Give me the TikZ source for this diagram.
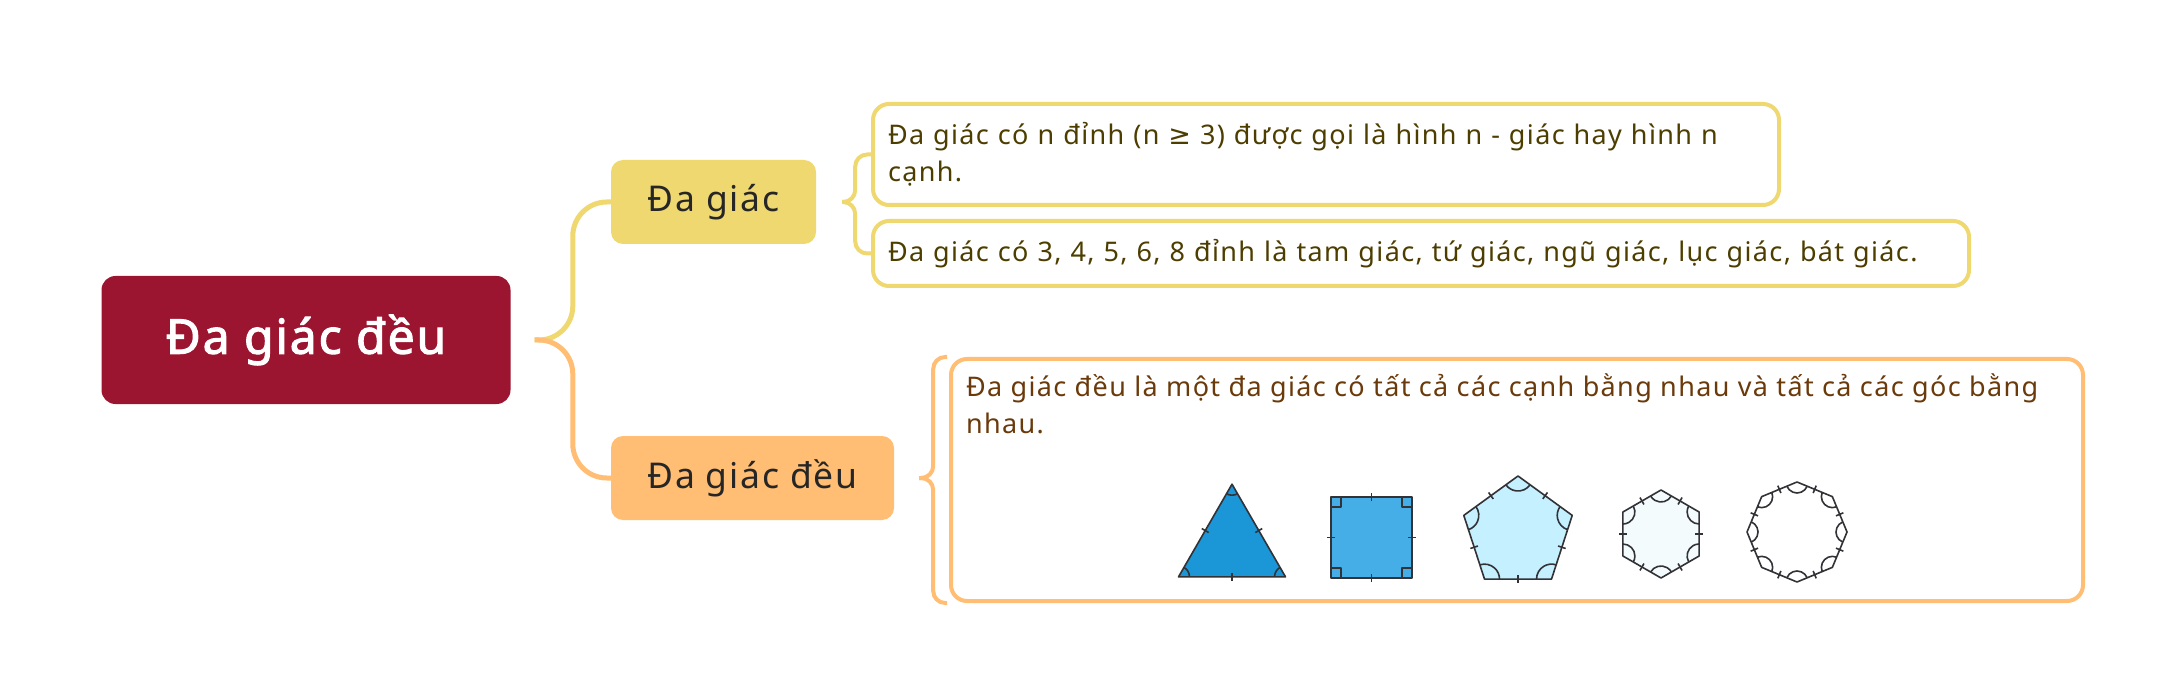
\documentclass[tikz,border=0pt]{standalone}
\usepackage{fontspec}
\setmainfont{Noto Sans}[LetterSpace=5]
\newfontfamily\titlefont{Noto Sans}[LetterSpace=4,FakeBold=2.2]
\newfontfamily\symfont{DejaVu Sans}
\usetikzlibrary{positioning}

\definecolor{rootred}{RGB}{155,21,48}
\definecolor{ybranch}{RGB}{240,216,112}
\definecolor{obranch}{RGB}{255,190,115}
\definecolor{ytext}{RGB}{77,62,0}
\definecolor{otext}{RGB}{107,58,10}
\definecolor{tricol}{RGB}{27,150,214}
\definecolor{sqcol}{RGB}{70,174,230}
\definecolor{pentcol}{RGB}{196,240,255}
\definecolor{hexcol}{RGB}{244,251,253}
\definecolor{edgecol}{RGB}{50,50,55}

% regular polygon: center x, center y, n, radius, start angle, fill, angle mark radius
\newcommand{\drawngon}[7]{%
  \pgfmathsetmacro{\ngstep}{360/#3}
  \pgfmathsetmacro{\nghalf}{90-180/#3}
  \pgfmathsetmacro{\ngmid}{#4*cos(180/#3)}
  \begin{scope}[shift={(#1,#2)}]
    \draw[poly,fill=#6] (#5:#4) \foreach \k in {1,...,#3}{ -- ({#5+\k*\ngstep}:#4)} -- cycle;
    \foreach \k in {1,...,#3}{
      \pgfmathsetmacro{\va}{#5+\k*\ngstep}
      \draw[poly] (\va:#4) ++({\va+180-\nghalf}:#7) arc[start angle={\va+180-\nghalf}, end angle={\va+180+\nghalf}, radius=#7];
      \draw[poly] ({\va+\ngstep/2}:{\ngmid-4}) -- ({\va+\ngstep/2}:{\ngmid+4});
    }
  \end{scope}}

\begin{document}
\begin{tikzpicture}[x=1pt,y=-1pt,
    root node/.style={rectangle,rounded corners=14pt,fill=rootred,text=white,font=\titlefont\fontsize{48}{55}\selectfont,minimum width=409pt,minimum height=128pt},
    topic node/.style={rectangle,rounded corners=12pt,text=black!85,font=\fontsize{35.5}{42}\selectfont,minimum height=84pt,inner sep=0pt},
    leaf node/.style={rectangle,rounded corners=16pt,draw,line width=4pt,fill=white,align=left,anchor=north west,inner xsep=15pt,font=\fontsize{27}{37}\selectfont},
    branch/.style={line width=5pt,rounded corners=34pt},
    brace/.style={line width=4pt,rounded corners=12pt},
    poly/.style={draw=edgecol,line width=1.6pt,line join=round}]
  \path[use as bounding box,fill=white] (0,0) rectangle (2184,692);

  \node [root node] (1) at (306,340) {Đa giác đều};
  \node [topic node, fill=ybranch, minimum width=205pt] (2) at (713.5,202) {Đa giác};
  \node [topic node, fill=obranch, minimum width=283pt] (3) at (752.5,478) {Đa giác đều};

  \node [leaf node, draw=ybranch, text=ytext, minimum width=906pt, minimum height=101pt, text width=876pt] (4) at (871,102)
    {Đa giác có n đỉnh (n {\symfont≥} 3) được gọi là hình n - giác hay hình n\\cạnh.};
  \node [leaf node, draw=ybranch, text=ytext, minimum width=1096pt, minimum height=65pt, text width=1066pt] (5) at (871,219)
    {Đa giác có 3, 4, 5, 6, 8 đỉnh là tam giác, tứ giác, ngũ giác, lục giác, bát giác.};
  \node [leaf node, draw=obranch, text=otext, minimum width=1132pt, minimum height=242pt, inner ysep=13pt] (6) at (949,357)
    {\parbox[t][212pt][t]{1102pt}{Đa giác đều là một đa giác có tất cả các cạnh bằng nhau và tất cả các góc bằng\\nhau.}};

  % connectors
  \coordinate (c1) at ([xshift=24pt]1.east);
  \draw[branch, ybranch] (c1) -| ([xshift=-38pt]2.west) -- (2.west);
  \draw[branch, obranch] (c1) -| ([xshift=-38pt]3.west) -- (3.west);

  % braces
  \coordinate (t2) at ([xshift=26pt]2.east);
  \draw[brace, ybranch] (4.west) -| ([xshift=13pt]t2) -- (t2);
  \draw[brace, ybranch] (5.west) -| ([xshift=13pt]t2) -- (t2);
  \coordinate (t3) at ([xshift=25pt]3.east);
  \draw[brace, obranch] ([xshift=-2pt]6.north west) -| ([xshift=14pt]t3) -- (t3);
  \draw[brace, obranch] ([xshift=-2pt]6.south west) -| ([xshift=14pt]t3) -- (t3);

  % polygons
  \drawngon{1232}{546}{3}{61.8}{-90}{tricol}{11}
  \begin{scope}[shift={(1371.5,537.5)}]
    \draw[poly,fill=sqcol] (-40.5,-40.5) rectangle (40.5,40.5);
    \foreach \sx/\sy in {-1/-1,1/-1,1/1,-1/1}
      \draw[poly] (\sx*40.5,\sy*30.5) -| (\sx*30.5,\sy*40.5);
    \foreach \a in {0,90,180,270}
      \draw[poly] (\a:36.5) -- (\a:44.5);
  \end{scope}
  \drawngon{1518}{533}{5}{57}{-90}{pentcol}{15}
  \drawngon{1661}{534}{6}{44}{-90}{hexcol}{12}
  \drawngon{1797}{532}{8}{50}{-90}{white}{11}
\end{tikzpicture}
\end{document}
